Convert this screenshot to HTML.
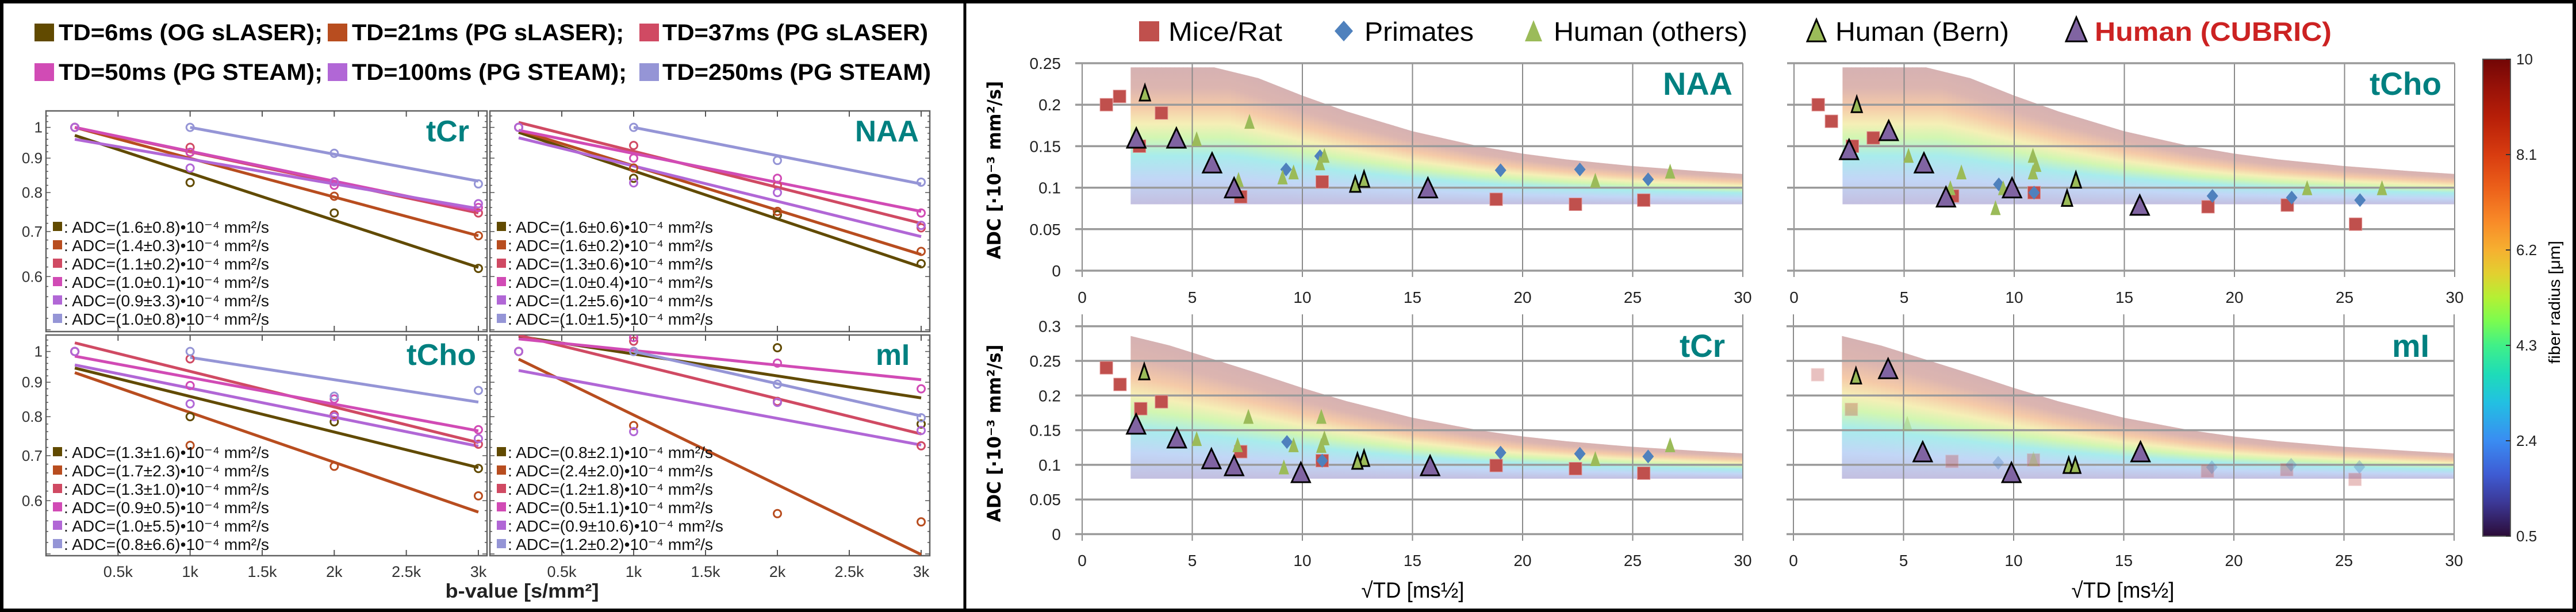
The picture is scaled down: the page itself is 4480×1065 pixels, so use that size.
<!DOCTYPE html>
<html><head><meta charset="utf-8">
<style>
html,body{margin:0;padding:0;background:#fff;}
svg{display:block;font-family:"Liberation Sans",sans-serif;}
</style></head>
<body>
<svg id="fig" width="4480" height="1065" viewBox="0 0 4480 1065" xmlns="http://www.w3.org/2000/svg">
<defs>
  <linearGradient id="bandGrad" x1="0" y1="1" x2="0" y2="0">
    <stop offset="0" stop-color="#c3bfe0"/>
    <stop offset="0.18" stop-color="#c2d6f6"/>
    <stop offset="0.35" stop-color="#a8ecec"/>
    <stop offset="0.48" stop-color="#d2f6b2"/>
    <stop offset="0.58" stop-color="#f5efb6"/>
    <stop offset="0.70" stop-color="#f5caa8"/>
    <stop offset="0.84" stop-color="#dcb5b0"/>
    <stop offset="1" stop-color="#d5b1b2"/>
  </linearGradient>
  <linearGradient id="cbGrad" x1="0" y1="0" x2="0" y2="1">
    <stop offset="0" stop-color="#720606"/>
    <stop offset="0.06" stop-color="#981208"/>
    <stop offset="0.12" stop-color="#b61e08"/>
    <stop offset="0.20" stop-color="#d83c10"/>
    <stop offset="0.27" stop-color="#ec601a"/>
    <stop offset="0.34" stop-color="#f88a28"/>
    <stop offset="0.40" stop-color="#f6b030"/>
    <stop offset="0.45" stop-color="#e2d030"/>
    <stop offset="0.50" stop-color="#b4f034"/>
    <stop offset="0.55" stop-color="#7afc50"/>
    <stop offset="0.60" stop-color="#40f088"/>
    <stop offset="0.66" stop-color="#1edcb8"/>
    <stop offset="0.72" stop-color="#22c0e2"/>
    <stop offset="0.80" stop-color="#3a8cf2"/>
    <stop offset="0.87" stop-color="#3e5cd4"/>
    <stop offset="0.93" stop-color="#3c3896"/>
    <stop offset="1" stop-color="#2c0c38"/>
  </linearGradient>
</defs>
<rect x="0" y="0" width="4480" height="1065" fill="#ffffff"/>

<!-- LEFT LEGEND -->
<g font-weight="bold" font-size="40" fill="#000">
  <rect x="60" y="41" width="34" height="31" fill="#614a00"/>
  <text x="102" y="70" textLength="459" lengthAdjust="spacingAndGlyphs">TD=6ms (OG sLASER);</text>
  <rect x="570" y="41" width="34" height="31" fill="#b84d1f"/>
  <text x="612" y="70" textLength="473" lengthAdjust="spacingAndGlyphs">TD=21ms (PG sLASER);</text>
  <rect x="1112" y="41" width="34" height="31" fill="#d04a63"/>
  <text x="1152" y="70" textLength="462" lengthAdjust="spacingAndGlyphs">TD=37ms (PG sLASER)</text>
  <rect x="60" y="110" width="34" height="31" fill="#d14bb5"/>
  <text x="102" y="139" textLength="459" lengthAdjust="spacingAndGlyphs">TD=50ms (PG STEAM);</text>
  <rect x="570" y="110" width="34" height="31" fill="#b167d6"/>
  <text x="612" y="139" textLength="478" lengthAdjust="spacingAndGlyphs">TD=100ms (PG STEAM);</text>
  <rect x="1112" y="110" width="34" height="31" fill="#9595d6"/>
  <text x="1152" y="139" textLength="467" lengthAdjust="spacingAndGlyphs">TD=250ms (PG STEAM)</text>
</g>
<text x="908" y="1040" font-size="34" font-weight="bold" text-anchor="middle" textLength="267" lengthAdjust="spacingAndGlyphs" fill="#222">b-value [s/mm²]</text>

<!-- RIGHT LEGEND -->
<g font-size="46">
  <rect x="1981" y="37" width="35" height="35" fill="#c0504d"/>
  <text x="2032" y="71" textLength="198" lengthAdjust="spacingAndGlyphs">Mice/Rat</text>
  <polygon points="2337,36 2353,54 2337,72 2321,54" fill="#4f81bd"/>
  <text x="2373" y="71" textLength="190" lengthAdjust="spacingAndGlyphs">Primates</text>
  <polygon points="2667,35 2682,72 2652,72" fill="#9bbb59"/>
  <text x="2702" y="71" textLength="337" lengthAdjust="spacingAndGlyphs">Human (others)</text>
  <polygon points="3159,34 3175,72 3143,72" fill="#9bbb59" stroke="#000" stroke-width="3"/>
  <text x="3192" y="71" textLength="302" lengthAdjust="spacingAndGlyphs">Human (Bern)</text>
  <polygon points="3611,30 3629,72 3593,72" fill="#8064a2" stroke="#000" stroke-width="3"/>
  <text x="3643" y="71" textLength="412" lengthAdjust="spacingAndGlyphs" font-weight="bold" fill="#cc2222">Human (CUBRIC)</text>
</g>

<text transform="translate(1740,296) rotate(-90)" font-family="'DejaVu Sans',sans-serif" font-weight="bold" font-size="32" text-anchor="middle" textLength="310" lengthAdjust="spacingAndGlyphs">ADC [·10⁻³ mm²/s]</text>
<text transform="translate(1740,754) rotate(-90)" font-family="'DejaVu Sans',sans-serif" font-weight="bold" font-size="32" text-anchor="middle" textLength="309" lengthAdjust="spacingAndGlyphs">ADC [·10⁻³ mm²/s]</text>
<text x="2457" y="1040" font-size="38" text-anchor="middle" textLength="179" lengthAdjust="spacingAndGlyphs">√TD [ms½]</text>
<text x="3692" y="1040" font-size="38" text-anchor="middle" textLength="179" lengthAdjust="spacingAndGlyphs">√TD [ms½]</text>

<!-- COLORBAR -->
<g>
  <rect x="4318" y="103" width="48" height="830" fill="url(#cbGrad)" stroke="#555" stroke-width="2"/>
  <g id="cbTicks"></g>
  <text transform="translate(4452,526) rotate(-90)" font-size="28" text-anchor="middle" textLength="214" lengthAdjust="spacingAndGlyphs">fiber radius [μm]</text>
</g>

<g id="leftPlots"></g>
<g id="rightPlots"></g>

<rect x="3" y="3" width="4474" height="1059" fill="none" stroke="#000" stroke-width="6"/>
<line x1="1678" y1="0" x2="1678" y2="1065" stroke="#000" stroke-width="5"/>
</svg>

<script>
const NS = 'http://www.w3.org/2000/svg';
function mk(tag, attrs, parent) {
  const e = document.createElementNS(NS, tag);
  for (const k in attrs) e.setAttribute(k, attrs[k]);
  parent.appendChild(e);
  return e;
}

/* ---------- LEFT PANEL DATA ---------- */
const bValues = [0.2, 1, 2, 3];
const bTickValues = [0.5, 1, 1.5, 2, 2.5, 3];
const bTickLabels = ['0.5k', '1k', '1.5k', '2k', '2.5k', '3k'];
const ratioTickValues = [1, 0.9, 0.8, 0.7, 0.6];
const ratioTickLabels = ['1', '0.9', '0.8', '0.7', '0.6'];
const lineStartB = [0.2, 0.2, 0.2, 0.2, 0.2, 1];
const lineEndB = [3, 3, 3, 3, 3, 3];
const seriesNames = ['td6', 'td21', 'td37', 'td50', 'td100', 'td250'];

const tcrPoints = [[1, 0.828, 0.746, 0.617], [1, 0.918, 0.79, 0.69], [1, 0.934, 0.83, 0.746], [1, 0.918, 0.82, 0.76], [1, 0.87, 0.83, 0.77], [null, 1.0, 0.915, 0.824]];
const tcrLineStart = [0.973, 1.0, 1.0, 1.0, 0.96, 1.0];
const tcrLineEnd = [0.619, 0.69, 0.746, 0.751, 0.757, 0.832];
const tcrAdc = ['1.6±0.8', '1.4±0.3', '1.1±0.2', '1.0±0.1', '0.9±3.3', '1.0±0.8'];

const naaPoints = [[1, 0.84, 0.741, 0.627], [1, 0.87, 0.75, 0.654], [1, 0.94, 0.82, 0.709], [1, 0.90, 0.84, 0.746], [1, 0.827, 0.80, 0.715], [null, 1.0, 0.893, 0.829]];
const naaLineStart = [0.983, 0.99, 1.017, 0.99, 0.965, 1.0];
const naaLineEnd = [0.62, 0.647, 0.72, 0.75, 0.688, 0.824];
const naaAdc = ['1.6±0.6', '1.6±0.2', '1.3±0.6', '1.0±0.4', '1.2±5.6', '1.0±1.5'];

const tchoPoints = [[1, 0.80, 0.786, 0.67], [1, 0.725, 0.675, 0.61], [1, 0.975, 0.805, 0.728], [1, 0.89, 0.85, 0.765], [1, 0.836, 0.80, 0.742], [null, 1.0, 0.858, 0.875]];
const tchoLineStart = [0.945, 0.93, 1.03, 0.984, 0.955, 0.98];
const tchoLineEnd = [0.672, 0.577, 0.732, 0.762, 0.723, 0.841];
const tchoAdc = ['1.3±1.6', '1.7±2.3', '1.3±1.0', '0.9±0.5', '1.0±5.5', '0.8±6.6'];

const miPoints = [[1, 1.0, 1.013, 0.78], [1, 0.776, 0.574, 0.558], [1, 1.036, 0.843, 0.724], [1, 1.049, 0.961, 0.88], [1, 0.76, 0.84, 0.763], [null, 1.0, 0.894, 0.797]];
const miLineStart = [1.053, 0.974, 1.057, 1.044, 0.937, 1.0];
const miLineEnd = [0.853, 0.499, 0.754, 0.908, 0.726, 0.802];
const miAdc = ['0.8±2.1', '2.4±2.0', '1.2±1.8', '0.5±1.1', '0.9±10.6', '1.2±0.2'];

/* ---------- RIGHT PANEL DATA ---------- */
const tdTickValues = [0, 5, 10, 15, 20, 25, 30];
const adcTicksTop = [0, 0.05, 0.1, 0.15, 0.2, 0.25];
const adcTickLabelsTop = ['0', '0.05', '0.1', '0.15', '0.2', '0.25'];
const adcTicksBottom = [0, 0.05, 0.1, 0.15, 0.2, 0.25, 0.3];
const adcTickLabelsBottom = ['0', '0.05', '0.1', '0.15', '0.2', '0.25', '0.3'];
const bandTD = [2.2, 4, 6, 8, 10, 12, 15, 18, 20, 22, 25, 28, 30];
const bandUpperADC = [0.286, 0.272, 0.252, 0.232, 0.211, 0.192, 0.168, 0.150, 0.141, 0.134, 0.126, 0.12, 0.1165];
const bandLowerADC = [0.08];
const cbTickValues = [10, 8.1, 6.2, 4.3, 2.4, 0.5];
const cbTickLabels = ['10', '8.1', '6.2', '4.3', '2.4', '0.5'];

const naaMiceTD = [1.1, 1.7, 2.6, 3.6, 7.2, 10.9, 18.8, 22.4, 25.5];
const naaMiceADC = [0.2, 0.21, 0.15, 0.19, 0.089, 0.107, 0.086, 0.08, 0.085];
const naaPrimTD = [9.26, 10.8, 19, 22.6, 25.7];
const naaPrimADC = [0.122, 0.138, 0.121, 0.122, 0.11];
const naaOthTD = [7.6, 5.2, 7.1, 9.1, 9.6, 10.8, 11.0, 23.3, 26.7];
const naaOthADC = [0.18, 0.159, 0.11, 0.113, 0.119, 0.13, 0.139, 0.109, 0.12];
const naaBernTD = [2.85, 12.4, 12.8];
const naaBernADC = [0.214, 0.104, 0.11];
const naaCubTD = [2.46, 4.28, 5.9, 6.9, 15.7];
const naaCubADC = [0.16, 0.16, 0.13, 0.1, 0.1];

const tchoMiceTD = [1.1, 1.7, 3.6, 2.65, 7.2, 10.9, 18.8, 22.4, 25.5];
const tchoMiceADC = [0.2, 0.18, 0.16, 0.15, 0.09, 0.094, 0.077, 0.079, 0.056];
const tchoPrimTD = [9.3, 10.9, 19, 22.6, 25.7];
const tchoPrimADC = [0.104, 0.094, 0.09, 0.088, 0.085];
const tchoOthTD = [5.2, 7.6, 7.1, 9.15, 9.5, 10.85, 11.0, 10.85, 23.3, 26.7];
const tchoOthADC = [0.139, 0.119, 0.1, 0.076, 0.1, 0.139, 0.128, 0.119, 0.1, 0.1];
const tchoBernTD = [2.85, 12.8, 12.4];
const tchoBernADC = [0.2, 0.109, 0.087];
const tchoCubTD = [2.5, 4.3, 5.9, 6.9, 9.9, 15.7];
const tchoCubADC = [0.146, 0.169, 0.13, 0.089, 0.1, 0.079];

const tcrMiceTD = [1.1, 1.72, 2.66, 3.6, 7.2, 10.9, 18.8, 22.4, 25.5];
const tcrMiceADC = [0.24, 0.216, 0.181, 0.191, 0.119, 0.106, 0.099, 0.0945, 0.088];
const tcrPrimTD = [9.3, 10.9, 19, 22.6, 25.7];
const tcrPrimADC = [0.133, 0.106, 0.1176, 0.116, 0.112];
const tcrOthTD = [7.55, 10.86, 5.2, 7.06, 9.6, 11.0, 10.86, 9.16, 23.3, 26.7];
const tcrOthADC = [0.17, 0.17, 0.138, 0.129, 0.129, 0.139, 0.128, 0.097, 0.109, 0.129];
const tcrBernTD = [2.82, 12.8, 12.5];
const tcrBernADC = [0.234, 0.109, 0.105];
const tcrCubTD = [2.45, 4.3, 5.87, 6.9, 9.93, 15.8];
const tcrCubADC = [0.159, 0.139, 0.109, 0.099, 0.089, 0.099];

const miMiceTD = [1.1, 2.63, 7.2, 10.9, 18.8, 22.4, 25.5];
const miMiceADC = [0.23, 0.18, 0.105, 0.107, 0.091, 0.093, 0.079];
const miPrimTD = [9.3, 19.0, 22.6, 25.7];
const miPrimADC = [0.103, 0.0965, 0.1, 0.097];
const miOthTD = [5.17, 10.9];
const miOthADC = [0.16, 0.109];
const miBernTD = [2.84, 12.5, 12.8];
const miBernADC = [0.228, 0.099, 0.099];
const miCubTD = [4.3, 5.87, 9.9, 15.76];
const miCubADC = [0.239, 0.119, 0.089, 0.119];

/* ---------- STYLE / LAYOUT ---------- */
const seriesColors = ['#614a00', '#b84d1f', '#d04a63', '#d14bb5', '#b167d6', '#9595d6'];
const leftLayout = [
  {key: 'tcr', label: 'tCr', x0: 80, x1: 847, y0: 193, y1: 577, lx: 741, ly: 246, lw: 75, legX: 92, legY: 394, yLab: true, xLab: false, pts: tcrPoints, s: tcrLineStart, e: tcrLineEnd, adc: tcrAdc},
  {key: 'naa', label: 'NAA', x0: 852, x1: 1617, y0: 193, y1: 577, lx: 1487, ly: 246, lw: 111, legX: 864, legY: 394, yLab: false, xLab: false, pts: naaPoints, s: naaLineStart, e: naaLineEnd, adc: naaAdc},
  {key: 'tcho', label: 'tCho', x0: 80, x1: 847, y0: 583, y1: 967, lx: 707, ly: 635, lw: 121, legX: 92, legY: 786, yLab: true, xLab: true, pts: tchoPoints, s: tchoLineStart, e: tchoLineEnd, adc: tchoAdc},
  {key: 'mi', label: 'mI', x0: 852, x1: 1617, y0: 583, y1: 967, lx: 1523, ly: 635, lw: 59, legX: 864, legY: 786, yLab: false, xLab: true, pts: miPoints, s: miLineStart, e: miLineEnd, adc: miAdc}
];
const ratioMin = 0.497, ratioMax = 1.058, bMax = 3.06;

const leftRoot = document.getElementById('leftPlots');
leftLayout.forEach(function (P) {
  const g = mk('g', {}, leftRoot);
  
  
  const xs = function (b) { return P.x0 + (b / bMax) * (P.x1 - P.x0); };
  const ys = function (v) { return P.y1 - (Math.log(v) - Math.log(ratioMin)) / (Math.log(ratioMax) - Math.log(ratioMin)) * (P.y1 - P.y0); };

  const cp = mk('clipPath', {id: 'clip-' + P.key}, g);
  mk('rect', {x: P.x0, y: P.y0, width: P.x1 - P.x0, height: P.y1 - P.y0}, cp);

  const frame = mk('rect', {x: P.x0, y: P.y0, width: P.x1 - P.x0, height: P.y1 - P.y0, fill: 'none', stroke: '#606060', 'stroke-width': 2.5}, g);
  
  

  bTickValues.forEach(function (b, i) {
    const tt = mk('line', {x1: xs(b), x2: xs(b), y1: P.y0, y2: P.y0 + 10, stroke: '#555', 'stroke-width': 2}, g);
    
    
    const tb = mk('line', {x1: xs(b), x2: xs(b), y1: P.y1, y2: P.y1 - 10, stroke: '#555', 'stroke-width': 2}, g);
    
    
    if (P.xLab) {
      const t = mk('text', {x: xs(b), y: 1004, 'font-size': 27, 'text-anchor': 'middle', fill: '#333'}, g);
      t.textContent = bTickLabels[i];
      
      
    }
  });
  for (let k = 0; k <= 28; k++) {
    const v = 0.5 + k * 0.02;
    if (v > ratioMax) break;
    const major = (k % 5 === 0);
    const len = major ? 8 : 4;
    const l1 = mk('line', {x1: P.x0, x2: P.x0 + len, y1: ys(v), y2: ys(v), stroke: '#555', 'stroke-width': 1.5}, g);
    
    
    const l2 = mk('line', {x1: P.x1, x2: P.x1 - len, y1: ys(v), y2: ys(v), stroke: '#555', 'stroke-width': 1.5}, g);
    
    
  }
  if (P.yLab) {
    ratioTickValues.forEach(function (v, i) {
      const t = mk('text', {x: 74, y: ys(v) + 9, 'font-size': 26, 'text-anchor': 'end', fill: '#333'}, g);
      t.textContent = ratioTickLabels[i];
      
      
    });
  }

  const lg = mk('g', {'clip-path': 'url(#clip-' + P.key + ')'}, g);
  for (let s = 0; s < 6; s++) {
    const ln = mk('line', {x1: xs(lineStartB[s]), y1: ys(P.s[s]), x2: xs(lineEndB[s]), y2: ys(P.e[s]), stroke: seriesColors[s], 'stroke-width': 5}, lg);
    
    
  }
  for (let s = 0; s < 6; s++) {
    P.pts[s].forEach(function (v, j) {
      if (v === null) return;
      const c = mk('circle', {cx: xs(bValues[j]), cy: ys(v), r: 6.5, fill: 'none', stroke: seriesColors[s], 'stroke-width': 3}, lg);
      
      
    });
  }

  const lab = mk('text', {x: P.lx, y: P.ly, 'font-size': 52, 'font-weight': 'bold', fill: '#008080', textLength: P.lw, lengthAdjust: 'spacingAndGlyphs'}, g);
  lab.textContent = P.label;
  
  

  for (let s = 0; s < 6; s++) {
    const cy = P.legY + s * 32;
    const sw = mk('rect', {x: P.legX, y: cy - 8, width: 16, height: 16, fill: seriesColors[s]}, g);
    
    
    const t = mk('text', {x: P.legX + 19, y: cy + 11, 'font-size': 28, fill: '#111', textLength: P.adc[s].length > 7 ? 375 : 357, lengthAdjust: 'spacingAndGlyphs'}, g);
    t.textContent = ': ADC=(' + P.adc[s] + ')•10⁻⁴ mm²/s';
    
    
  }
});

/* ---------- RIGHT CHARTS ---------- */
const pxPerTD = 38.3;
const rightLayout = [
  {key: 'naa', label: 'NAA', x0: 1882, yZero: 471, k: 1444, cap: 0.245, gTop: 110, gBot: 482, ticks: adcTicksTop, tickLabels: adcTickLabelsTop, lx: 2892, ly: 165, lw: 121, yLab: true, tickY: 527,
   groups: [naaMiceTD, naaMiceADC, naaPrimTD, naaPrimADC, naaOthTD, naaOthADC, naaBernTD, naaBernADC, naaCubTD, naaCubADC], faded: false},
  {key: 'tcho', label: 'tCho', x0: 3120, yZero: 471, k: 1444, cap: 0.245, gTop: 110, gBot: 482, ticks: adcTicksTop, tickLabels: adcTickLabelsTop, lx: 4121, ly: 165, lw: 125, yLab: false, tickY: 527,
   groups: [tchoMiceTD, tchoMiceADC, tchoPrimTD, tchoPrimADC, tchoOthTD, tchoOthADC, tchoBernTD, tchoBernADC, tchoCubTD, tchoCubADC], faded: false},
  {key: 'tcr', label: 'tCr', x0: 1882, yZero: 929.5, k: 1206, cap: 1, gTop: 547, gBot: 941, ticks: adcTicksBottom, tickLabels: adcTickLabelsBottom, lx: 2921, ly: 621, lw: 79, yLab: true, tickY: 985,
   groups: [tcrMiceTD, tcrMiceADC, tcrPrimTD, tcrPrimADC, tcrOthTD, tcrOthADC, tcrBernTD, tcrBernADC, tcrCubTD, tcrCubADC], faded: false},
  {key: 'mi', label: 'mI', x0: 3119, yZero: 929.5, k: 1206, cap: 1, gTop: 547, gBot: 941, ticks: adcTicksBottom, tickLabels: adcTickLabelsBottom, lx: 4160, ly: 621, lw: 65, yLab: false, tickY: 985,
   groups: [miMiceTD, miMiceADC, miPrimTD, miPrimADC, miOthTD, miOthADC, miBernTD, miBernADC, miCubTD, miCubADC], faded: true}
];

function interpBand(td) {
  for (let i = 0; i < bandTD.length - 1; i++) {
    if (td >= bandTD[i] && td <= bandTD[i + 1]) {
      const f = (td - bandTD[i]) / (bandTD[i + 1] - bandTD[i]);
      return bandUpperADC[i] + f * (bandUpperADC[i + 1] - bandUpperADC[i]);
    }
  }
  return bandUpperADC[bandUpperADC.length - 1];
}

const rightRoot = document.getElementById('rightPlots');
rightLayout.forEach(function (C) {
  const g = mk('g', {}, rightRoot);
  
  
  const xs = function (td) { return C.x0 + td * pxPerTD; };
  const ys = function (v) { return C.yZero - v * C.k; };
  const xEnd = xs(30);

  // band
  let pts = [];
  bandTD.forEach(function (td, i) { pts.push(xs(td) + ',' + ys(Math.min(bandUpperADC[i], C.cap))); });
  pts.push(xs(bandTD[bandTD.length - 1]) + ',' + ys(bandLowerADC[0]));
  pts.push(xs(bandTD[0]) + ',' + ys(bandLowerADC[0]));
  const cp = mk('clipPath', {id: 'band-clip-' + C.key}, g);
  mk('polygon', {points: pts.join(' ')}, cp);
  const bg = mk('g', {'clip-path': 'url(#band-clip-' + C.key + ')'}, g);
  
  
  const N = 140;
  for (let i = 0; i < N; i++) {
    const ta = bandTD[0] + (30 - bandTD[0]) * i / N;
    const tb = bandTD[0] + (30 - bandTD[0]) * (i + 1) / N;
    const up = Math.min(interpBand((ta + tb) / 2), C.cap);
    const r = mk('rect', {x: xs(ta), y: ys(up) - 3, width: xs(tb) - xs(ta) + 1, height: ys(bandLowerADC[0]) - ys(up) + 3, fill: 'url(#bandGrad)'}, bg);
    
    
  }

  // grid
  tdTickValues.forEach(function (td) {
    const l = mk('line', {x1: xs(td), x2: xs(td), y1: C.gTop, y2: C.gBot, stroke: '#8a8a8a', 'stroke-width': 2}, g);
    
    
    const t = mk('text', {x: xs(td), y: C.tickY, 'font-size': 28, 'text-anchor': 'middle', fill: '#222'}, g);
    t.textContent = String(td);
    
    
  });
  C.ticks.forEach(function (v, i) {
    const l = mk('line', {x1: C.x0 - 12, x2: xEnd, y1: ys(v), y2: ys(v), stroke: '#9a9a9a', 'stroke-width': 3.5}, g);
    
    
    if (C.yLab) {
      const t = mk('text', {x: 1845, y: ys(v) + 10, 'font-size': 28, 'text-anchor': 'end', fill: '#222'}, g);
      t.textContent = C.tickLabels[i];
      
      
    }
  });

  const G = C.groups;
  const fadeOp = C.faded ? 0.35 : 1;
  // mice/rat squares
  G[0].forEach(function (td, i) {
    const cx = xs(td), cy = ys(G[1][i]);
    const m = mk('rect', {x: cx - 11, y: cy - 11, width: 22, height: 22, fill: '#c0504d', stroke: '#e09090', 'stroke-width': 1, opacity: fadeOp}, g);
    
    
  });
  // primates diamonds
  G[2].forEach(function (td, i) {
    const cx = xs(td), cy = ys(G[3][i]);
    const m = mk('polygon', {points: [cx, cy - 12, cx + 10, cy, cx, cy + 12, cx - 10, cy].join(','), fill: '#4f81bd', opacity: fadeOp}, g);
    
    
  });
  // human others
  G[4].forEach(function (td, i) {
    const cx = xs(td), cy = ys(G[5][i]);
    const m = mk('polygon', {points: [cx, cy - 13, cx + 9, cy + 13, cx - 9, cy + 13].join(','), fill: '#9bbb59', opacity: fadeOp}, g);
    
    
  });
  // human bern
  G[6].forEach(function (td, i) {
    const cx = xs(td), cy = ys(G[7][i]);
    const m = mk('polygon', {points: [cx, cy - 14, cx + 9, cy + 13, cx - 9, cy + 13].join(','), fill: '#9bbb59', stroke: '#000', 'stroke-width': 3}, g);
    
    
  });
  // human cubric
  G[8].forEach(function (td, i) {
    const cx = xs(td), cy = ys(G[9][i]);
    const m = mk('polygon', {points: [cx, cy - 17, cx + 16, cy + 17, cx - 16, cy + 17].join(','), fill: '#8064a2', stroke: '#000', 'stroke-width': 3}, g);
    
    
  });

  const lab = mk('text', {x: C.lx, y: C.ly, 'font-size': 56, 'font-weight': 'bold', fill: '#008080', textLength: C.lw, lengthAdjust: 'spacingAndGlyphs'}, g);
  lab.textContent = C.label;
  
  
});

/* ---------- COLORBAR TICKS ---------- */
const cbRoot = document.getElementById('cbTicks');
cbTickValues.forEach(function (v, i) {
  const y = 103 + (10 - v) / 9.5 * 830;
  const l = mk('line', {x1: 4358, x2: 4366, y1: y, y2: y, stroke: '#333', 'stroke-width': 2}, cbRoot);
  
  
  const t = mk('text', {x: 4376, y: y + 9, 'font-size': 26, fill: '#222'}, cbRoot);
  t.textContent = cbTickLabels[i];
  
  
});
</script>
</body></html>
